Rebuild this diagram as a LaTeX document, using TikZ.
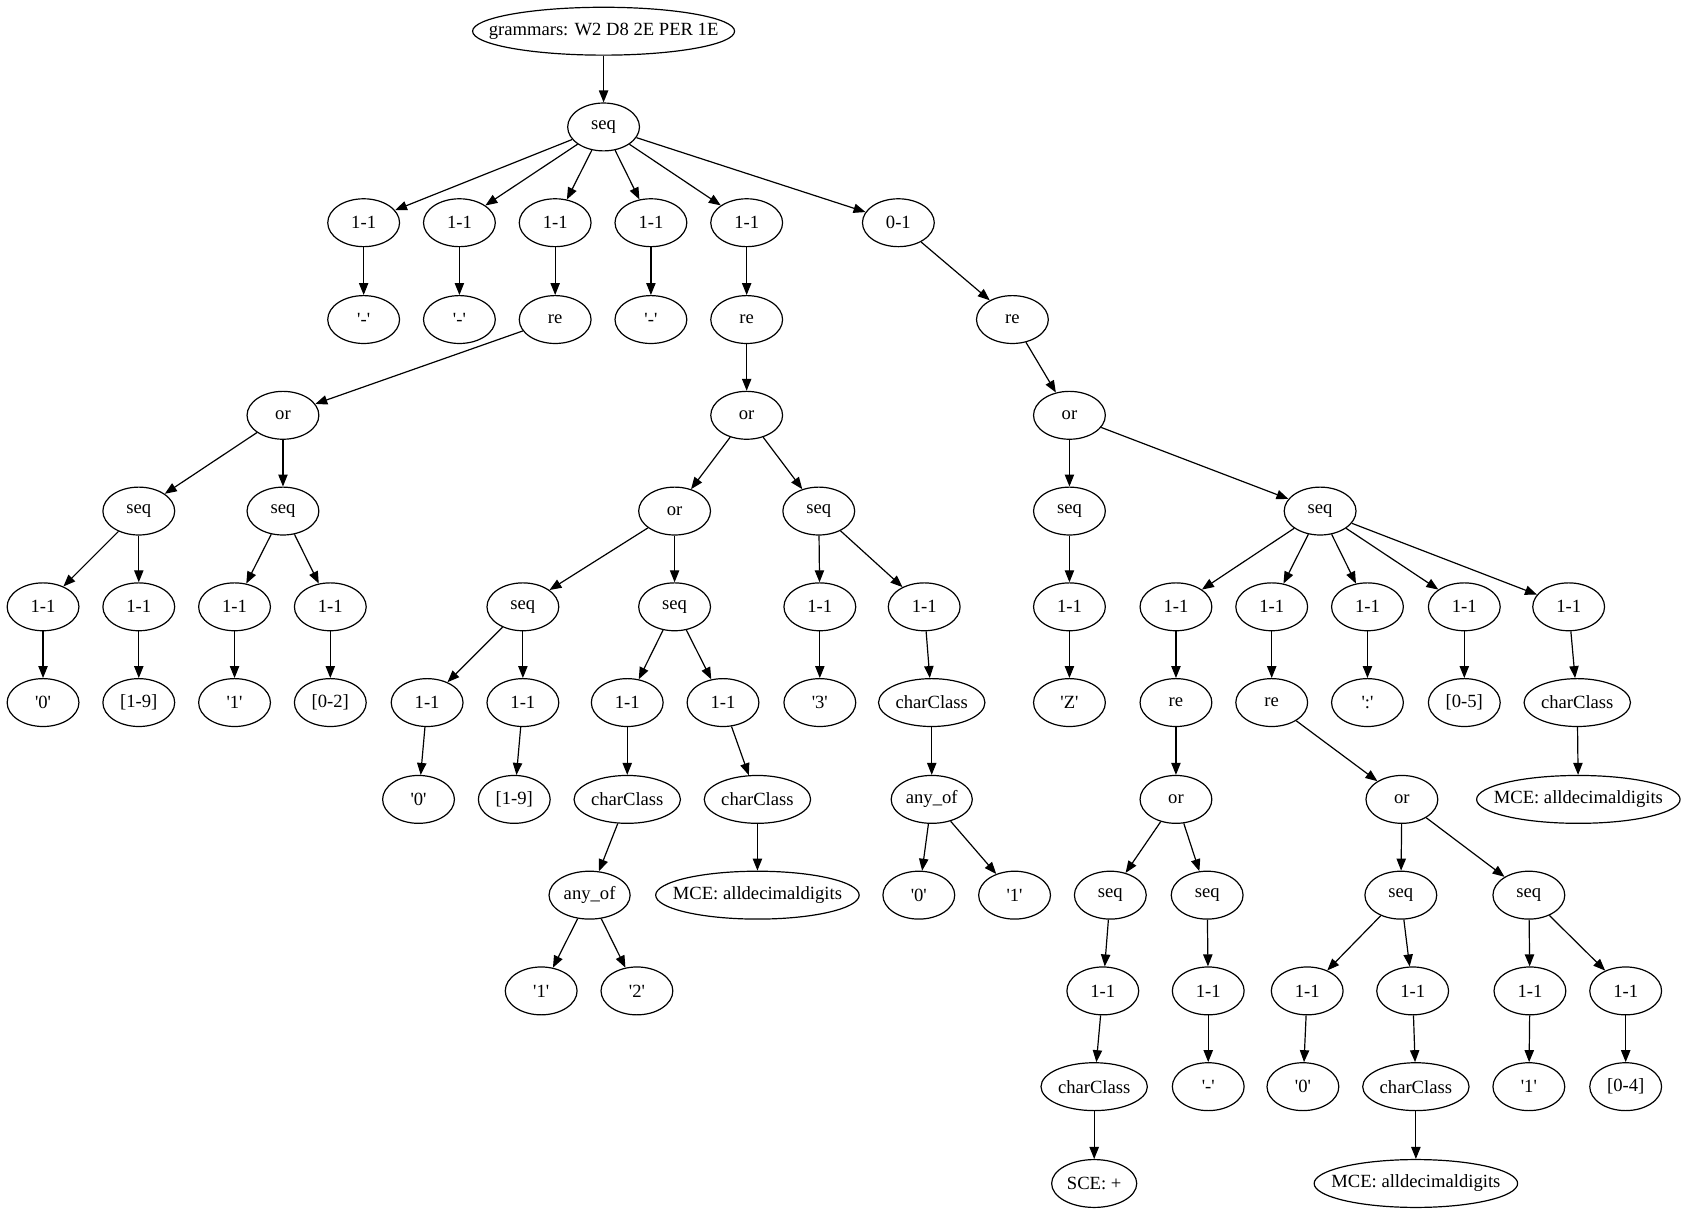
\documentclass[tikz,border=0pt]{standalone}
\usepackage{fontspec}
\setmainfont{Liberation Serif}
\usetikzlibrary{arrows.meta, shapes.geometric}
\newcommand{\lit}[1]{\textquotesingle#1\textquotesingle}
\newcommand{\fit}[1]{\makebox[0pt]{#1}}

\begin{document}
\begin{tikzpicture}[x=0.809pt, y=-0.809pt,
        tok/.style={draw, ellipse, line width=0.9pt, minimum width=54pt, minimum height=36pt,
                    inner sep=0pt, font=\fontsize{14}{16}\selectfont},
        wd/.style={minimum width=#1},
        arr/.style={-{Triangle[length=9pt,width=7pt]}, line width=0.9pt}]
        \useasboundingbox (0,0) rectangle (1568,1129.2);

        % top
        \node[tok, wd=197pt] (top) at (561,29) {\fit{grammars: W2 D8 2E PER 1E}};
        \node[tok] (s) at (561,118) {seq};

        \node[tok] (o1)  at (338,207) {1-1};
        \node[tok] (o2)  at (427,207) {1-1};
        \node[tok] (o3)  at (516,207) {1-1};
        \node[tok] (o4)  at (605,207) {1-1};
        \node[tok] (o5)  at (694,207) {1-1};
        \node[tok] (opt) at (835,207) {0-1};

        \node[tok] (d1)  at (338,297) {\lit{-}};
        \node[tok] (d2)  at (427,297) {\lit{-}};
        \node[tok] (re1) at (516,297) {re};
        \node[tok] (d4)  at (605,297) {\lit{-}};
        \node[tok] (re2) at (694,297) {re};
        \node[tok] (re3) at (941,297) {re};

        \node[tok] (or1) at (263,386) {or};
        \node[tok] (or2) at (694,386) {or};
        \node[tok] (or3) at (994,386) {or};

        \node[tok] (sA)   at (129,475) {seq};
        \node[tok] (sB)   at (263,475) {seq};
        \node[tok] (or2a) at (627,475) {or};
        \node[tok] (sC)   at (761,475) {seq};
        \node[tok] (sD)   at (994,475) {seq};
        \node[tok] (sE)   at (1227,475) {seq};

        % row 6
        \node[tok] (sA1) at (40,564)   {1-1};
        \node[tok] (sA2) at (129,564)  {1-1};
        \node[tok] (sB1) at (218,564)  {1-1};
        \node[tok] (sB2) at (307,564)  {1-1};
        \node[tok] (sF)  at (486,564)  {seq};
        \node[tok] (sG)  at (627,564)  {seq};
        \node[tok] (sC1) at (762,564)  {1-1};
        \node[tok] (sC2) at (859,564)  {1-1};
        \node[tok] (sD1) at (994,564)  {1-1};
        \node[tok] (sE1) at (1093,564) {1-1};
        \node[tok] (sE2) at (1182,564) {1-1};
        \node[tok] (sE3) at (1271,564) {1-1};
        \node[tok] (sE4) at (1361,564) {1-1};
        \node[tok] (sE5) at (1458,564) {1-1};

        % row 7
        \node[tok] (lA1) at (40,653)   {\lit{0}};
        \node[tok] (lA2) at (129,653)  {[1-9]};
        \node[tok] (lB1) at (218,653)  {\lit{1}};
        \node[tok] (lB2) at (307,653)  {[0-2]};
        \node[tok] (sF1) at (397,653)  {1-1};
        \node[tok] (sF2) at (486,653)  {1-1};
        \node[tok] (sG1) at (583,653)  {1-1};
        \node[tok] (sG2) at (672,653)  {1-1};
        \node[tok] (lC1) at (762,653)  {\lit{3}};
        \node[tok, wd=80pt] (cc1) at (866,653) {\fit{charClass}};
        \node[tok] (lD1) at (994,653)  {\lit{Z}};
        \node[tok] (re4) at (1093,653) {re};
        \node[tok] (re5) at (1182,653) {re};
        \node[tok] (lE3) at (1271,653) {\lit{:}};
        \node[tok] (lE4) at (1361,653) {[0-5]};
        \node[tok, wd=80pt] (cc2) at (1466,653) {\fit{charClass}};

        % row 8
        \node[tok] (lF1) at (389,743)  {\lit{0}};
        \node[tok] (lF2) at (478,743)  {[1-9]};
        \node[tok, wd=80pt] (cc3) at (583,743) {\fit{charClass}};
        \node[tok, wd=80pt] (cc4) at (704,743) {\fit{charClass}};
        \node[tok, wd=61pt] (any1) at (866,743) {\fit{any\_of}};
        \node[tok] (or4) at (1093,743) {or};
        \node[tok] (or5) at (1303,743) {or};
        \node[tok, wd=153pt] (mce1) at (1467,743) {\fit{MCE: alldecimaldigits}};

        % row 9
        \node[tok, wd=61pt] (any2) at (548,832) {\fit{any\_of}};
        \node[tok, wd=153pt] (mce2) at (704,832) {\fit{MCE: alldecimaldigits}};
        \node[tok] (lx0) at (854,832)  {\lit{0}};
        \node[tok] (lx1) at (943,832)  {\lit{1}};
        \node[tok] (sH)  at (1032,832) {seq};
        \node[tok] (sI)  at (1122,832) {seq};
        \node[tok] (sJ)  at (1302,832) {seq};
        \node[tok] (sK)  at (1421,832) {seq};

        % row 10
        \node[tok] (ly1) at (503,921)  {\lit{1}};
        \node[tok] (ly2) at (592,921)  {\lit{2}};
        \node[tok] (sH1) at (1025,921) {1-1};
        \node[tok] (sI1) at (1123,921) {1-1};
        \node[tok] (sJ1) at (1215,921) {1-1};
        \node[tok] (sJ2) at (1313,921) {1-1};
        \node[tok] (sK1) at (1422,921) {1-1};
        \node[tok] (sK2) at (1511,921) {1-1};

        % row 11
        \node[tok, wd=80pt] (cc5) at (1017,1010) {\fit{charClass}};
        \node[tok] (lI1) at (1123,1010) {\lit{-}};
        \node[tok] (lJ1) at (1211,1010) {\lit{0}};
        \node[tok, wd=80pt] (cc6) at (1316,1010) {\fit{charClass}};
        \node[tok] (lK1) at (1421,1010) {\lit{1}};
        \node[tok] (lK2) at (1511,1010) {[0-4]};

        % row 12
        \node[tok, wd=64pt] (sce) at (1017,1100) {\fit{SCE: +}};
        \node[tok, wd=153pt] (mce3) at (1316,1100) {\fit{MCE: alldecimaldigits}};

        % edges
        \draw[arr] (top) -- (s);
        \draw[arr] (s) -- (o1);
        \draw[arr] (s) -- (o2);
        \draw[arr] (s) -- (o3);
        \draw[arr] (s) -- (o4);
        \draw[arr] (s) -- (o5);
        \draw[arr] (s) -- (opt);
        \draw[arr] (o1) -- (d1);
        \draw[arr] (o2) -- (d2);
        \draw[arr] (o3) -- (re1);
        \draw[arr] (o4) -- (d4);
        \draw[arr] (o5) -- (re2);
        \draw[arr] (opt) -- (re3);
        \draw[arr] (re1) -- (or1);
        \draw[arr] (re2) -- (or2);
        \draw[arr] (re3) -- (or3);
        \draw[arr] (or1) -- (sA);
        \draw[arr] (or1) -- (sB);
        \draw[arr] (or2) -- (or2a);
        \draw[arr] (or2) -- (sC);
        \draw[arr] (or3) -- (sD);
        \draw[arr] (or3) -- (sE);
        \draw[arr] (sA) -- (sA1);
        \draw[arr] (sA) -- (sA2);
        \draw[arr] (sB) -- (sB1);
        \draw[arr] (sB) -- (sB2);
        \draw[arr] (or2a) -- (sF);
        \draw[arr] (or2a) -- (sG);
        \draw[arr] (sC) -- (sC1);
        \draw[arr] (sC) -- (sC2);
        \draw[arr] (sD) -- (sD1);
        \draw[arr] (sE) -- (sE1);
        \draw[arr] (sE) -- (sE2);
        \draw[arr] (sE) -- (sE3);
        \draw[arr] (sE) -- (sE4);
        \draw[arr] (sE) -- (sE5);
        \draw[arr] (sA1) -- (lA1);
        \draw[arr] (sA2) -- (lA2);
        \draw[arr] (sB1) -- (lB1);
        \draw[arr] (sB2) -- (lB2);
        \draw[arr] (sF) -- (sF1);
        \draw[arr] (sF) -- (sF2);
        \draw[arr] (sG) -- (sG1);
        \draw[arr] (sG) -- (sG2);
        \draw[arr] (sC1) -- (lC1);
        \draw[arr] (sC2) -- (cc1);
        \draw[arr] (sD1) -- (lD1);
        \draw[arr] (sE1) -- (re4);
        \draw[arr] (sE2) -- (re5);
        \draw[arr] (sE3) -- (lE3);
        \draw[arr] (sE4) -- (lE4);
        \draw[arr] (sE5) -- (cc2);
        \draw[arr] (sF1) -- (lF1);
        \draw[arr] (sF2) -- (lF2);
        \draw[arr] (sG1) -- (cc3);
        \draw[arr] (sG2) -- (cc4);
        \draw[arr] (cc1) -- (any1);
        \draw[arr] (re4) -- (or4);
        \draw[arr] (re5) -- (or5);
        \draw[arr] (cc2) -- (mce1);
        \draw[arr] (cc3) -- (any2);
        \draw[arr] (cc4) -- (mce2);
        \draw[arr] (any1) -- (lx0);
        \draw[arr] (any1) -- (lx1);
        \draw[arr] (or4) -- (sH);
        \draw[arr] (or4) -- (sI);
        \draw[arr] (or5) -- (sJ);
        \draw[arr] (or5) -- (sK);
        \draw[arr] (any2) -- (ly1);
        \draw[arr] (any2) -- (ly2);
        \draw[arr] (sH) -- (sH1);
        \draw[arr] (sI) -- (sI1);
        \draw[arr] (sJ) -- (sJ1);
        \draw[arr] (sJ) -- (sJ2);
        \draw[arr] (sK) -- (sK1);
        \draw[arr] (sK) -- (sK2);
        \draw[arr] (sH1) -- (cc5);
        \draw[arr] (sI1) -- (lI1);
        \draw[arr] (sJ1) -- (lJ1);
        \draw[arr] (sJ2) -- (cc6);
        \draw[arr] (sK1) -- (lK1);
        \draw[arr] (sK2) -- (lK2);
        \draw[arr] (cc5) -- (sce);
        \draw[arr] (cc6) -- (mce3);
    \end{tikzpicture}
\end{document}
